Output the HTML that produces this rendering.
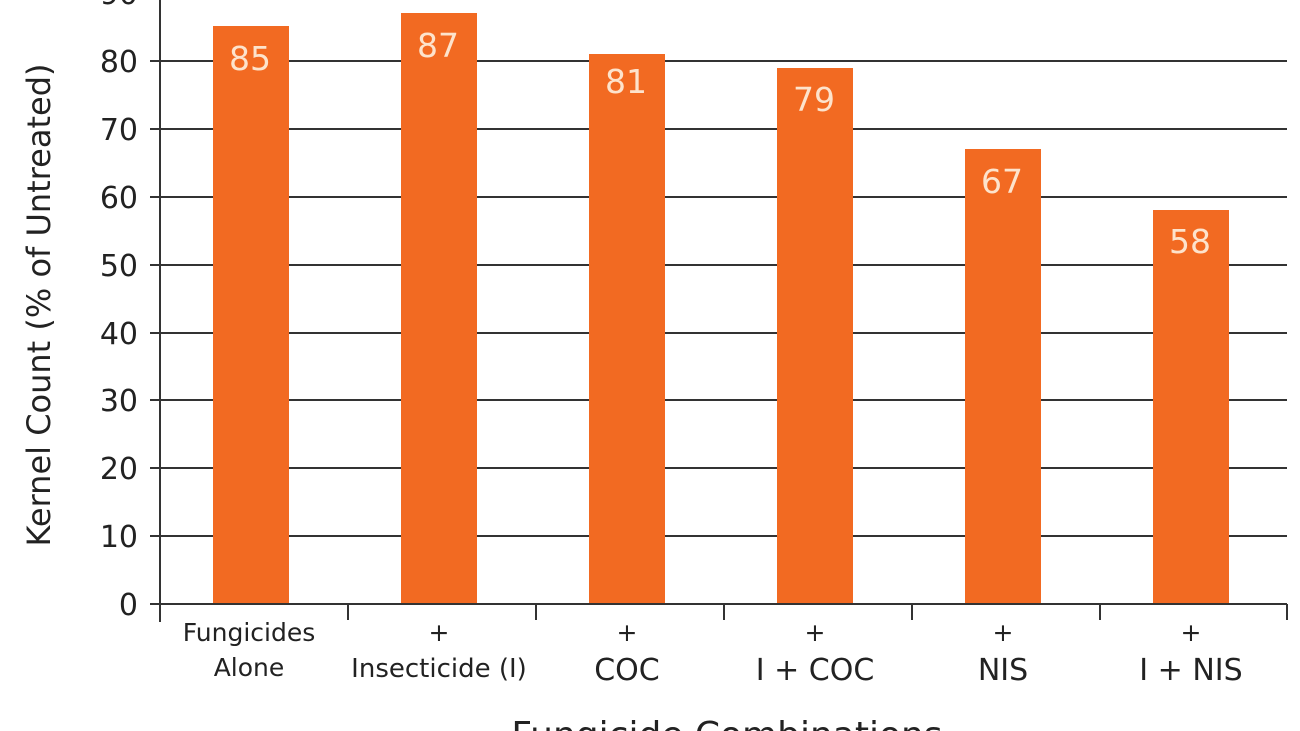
<!DOCTYPE html>
<html><head><style>html,body{margin:0;padding:0;background:#fff;}svg{display:block}</style></head><body>
<svg width="1300" height="731" viewBox="0 0 1300 731" xmlns="http://www.w3.org/2000/svg" font-family="'DejaVu Sans', 'Liberation Sans', sans-serif">
<rect width="1300" height="731" fill="#fff"/>
<g stroke="#333" stroke-width="2">
<line x1="150" y1="-7" x2="1287" y2="-7"/>
<line x1="150" y1="61" x2="1287" y2="61"/>
<line x1="150" y1="129" x2="1287" y2="129"/>
<line x1="150" y1="197" x2="1287" y2="197"/>
<line x1="150" y1="265" x2="1287" y2="265"/>
<line x1="150" y1="333" x2="1287" y2="333"/>
<line x1="150" y1="400" x2="1287" y2="400"/>
<line x1="150" y1="468" x2="1287" y2="468"/>
<line x1="150" y1="536" x2="1287" y2="536"/>
</g>
<g fill="#f26a22">
<rect x="213" y="26" width="76" height="578"/>
<rect x="401" y="13" width="76" height="591"/>
<rect x="589" y="54" width="76" height="550"/>
<rect x="777" y="68" width="76" height="536"/>
<rect x="965" y="149" width="76" height="455"/>
<rect x="1153" y="210" width="76" height="394"/>
</g>
<g stroke="#333" stroke-width="2">
<line x1="160" y1="0" x2="160" y2="622"/>
<line x1="150" y1="604" x2="1287" y2="604"/>
<line x1="348" y1="604" x2="348" y2="620"/>
<line x1="536" y1="604" x2="536" y2="620"/>
<line x1="724" y1="604" x2="724" y2="620"/>
<line x1="912" y1="604" x2="912" y2="620"/>
<line x1="1100" y1="604" x2="1100" y2="620"/>
<line x1="1287" y1="604" x2="1287" y2="620"/>
</g>
<g fill="#fde3cc" font-size="33" text-anchor="middle">
<text x="250" y="70">85</text>
<text x="438" y="57">87</text>
<text x="626" y="93">81</text>
<text x="814" y="111">79</text>
<text x="1002" y="193">67</text>
<text x="1190" y="253">58</text>
</g>
<g fill="#222" font-size="30" text-anchor="end">
<text x="138" y="4">90</text>
<text x="138" y="72">80</text>
<text x="138" y="140">70</text>
<text x="138" y="208">60</text>
<text x="138" y="276">50</text>
<text x="138" y="344">40</text>
<text x="138" y="411">30</text>
<text x="138" y="479">20</text>
<text x="138" y="547">10</text>
<text x="138" y="615">0</text>
</g>
<text transform="translate(50,305) rotate(-90)" fill="#222" font-size="32" text-anchor="middle">Kernel Count (% of Untreated)</text>
<g fill="#222" font-size="25" text-anchor="middle">
<text x="249" y="641">Fungicides</text>
<text x="249" y="676">Alone</text>
<text x="439" y="641">+</text>
<text x="439" y="677" font-size="26">Insecticide (I)</text>
<text x="627" y="641">+</text>
<text x="627" y="680" font-size="30">COC</text>
<text x="815" y="641">+</text>
<text x="815" y="680" font-size="30">I + COC</text>
<text x="1003" y="641">+</text>
<text x="1003" y="680" font-size="30">NIS</text>
<text x="1191" y="641">+</text>
<text x="1191" y="680" font-size="30">I + NIS</text>
</g>
<text x="727" y="747" fill="#222" font-size="36" text-anchor="middle">Fungicide Combinations</text>
</svg>
</body></html>
